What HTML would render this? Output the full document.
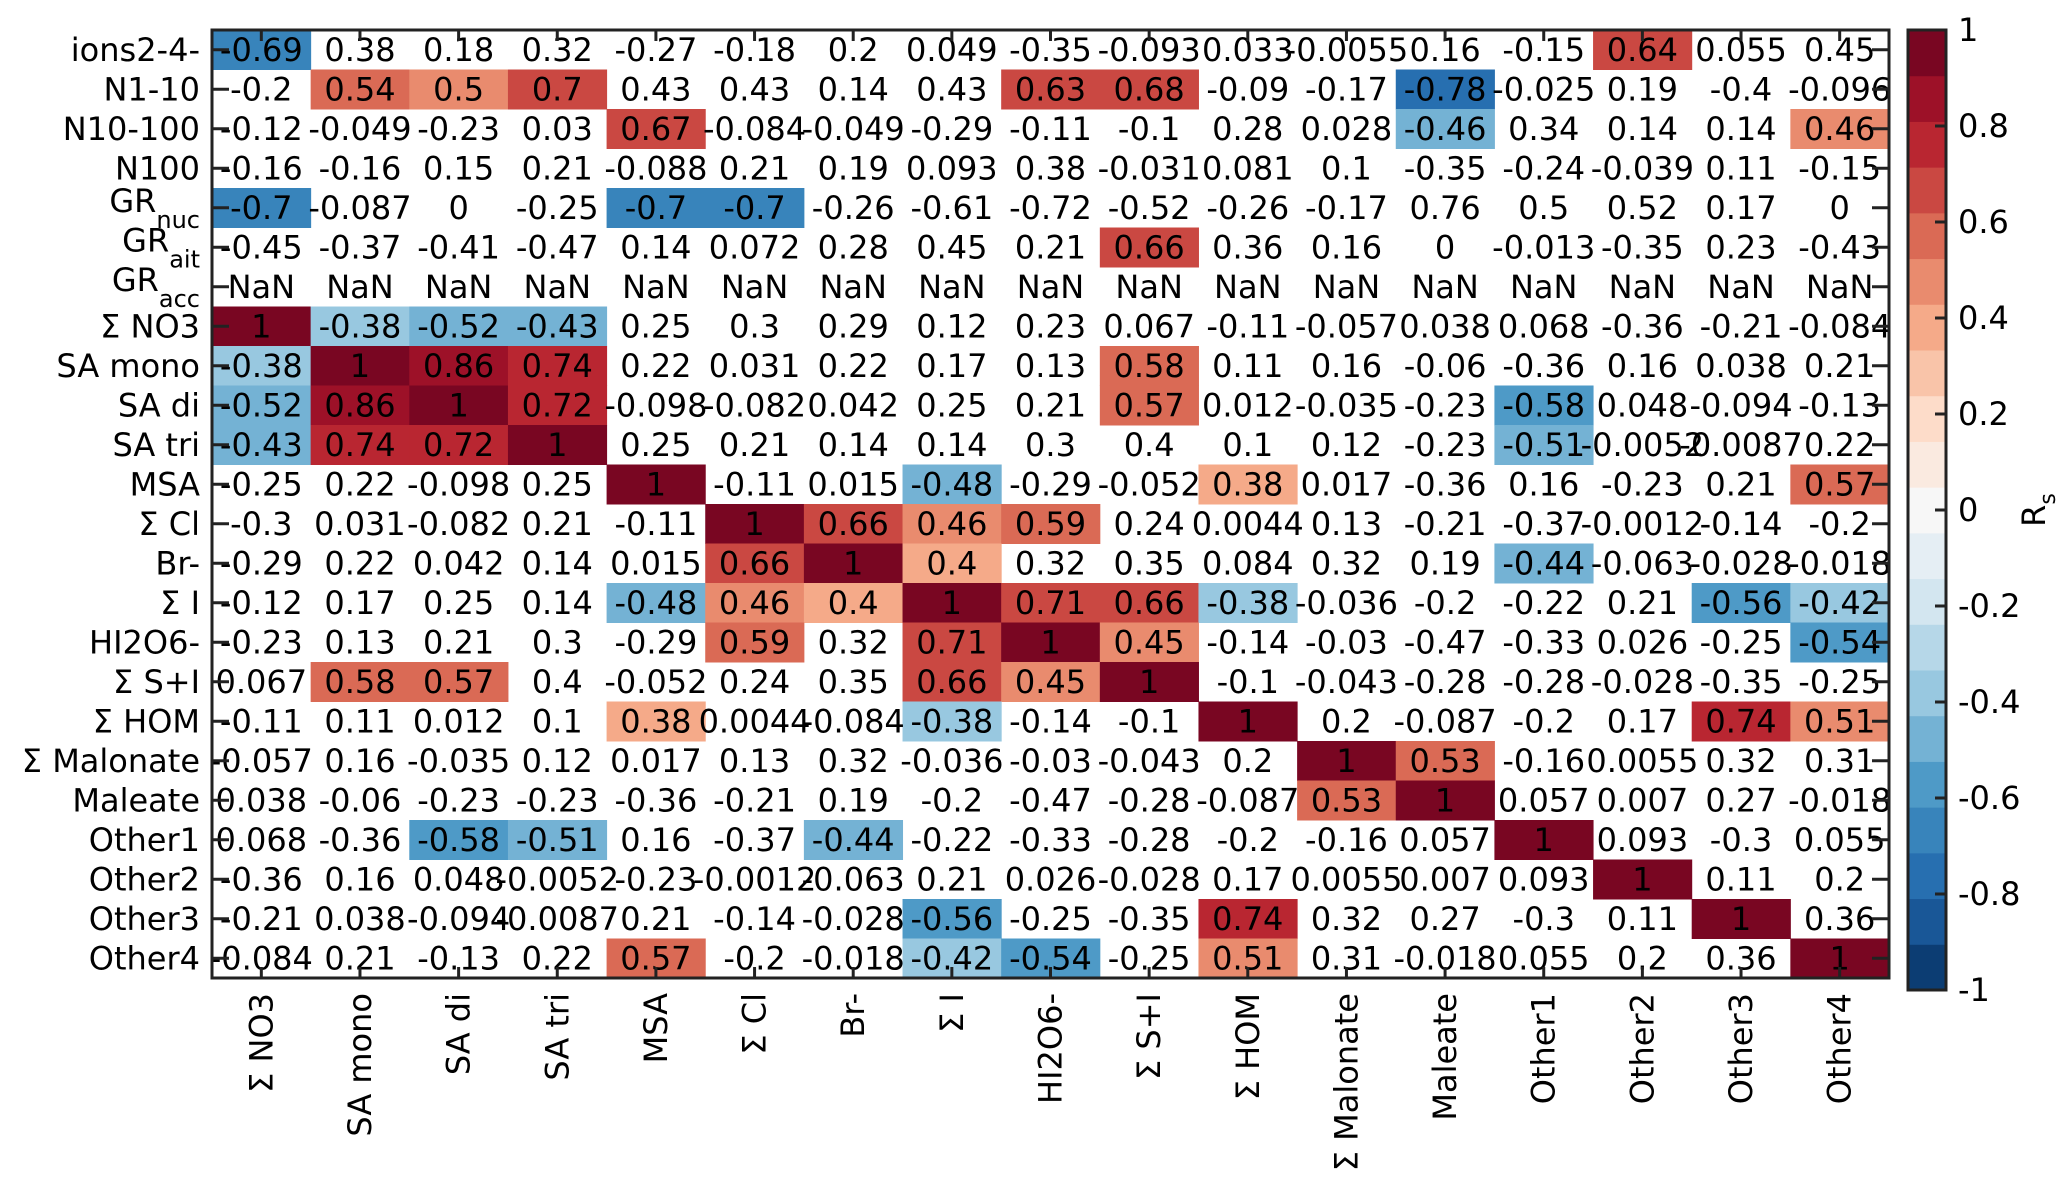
<!DOCTYPE html>
<html><head><meta charset="utf-8"><style>
html,body{margin:0;padding:0;background:#fff;}
svg{display:block;font-family:"DejaVu Sans","Liberation Sans",sans-serif;}
</style></head><body>
<svg id="chart" width="2067" height="1191" viewBox="0 0 2067 1191" xmlns="http://www.w3.org/2000/svg">
<g id="cells"></g>
<g id="texts"></g>
<g id="yaxis"></g>
<g id="xaxis"></g>
<g id="cbar"></g>
</svg>
<script>
const rowLabels = ["ions2-4-","N1-10","N10-100","N100","GR|nuc","GR|ait","GR|acc","Σ NO3","SA mono","SA di","SA tri","MSA","Σ Cl","Br-","Σ I","HI2O6-","Σ S+I","Σ HOM","Σ Malonate","Maleate","Other1","Other2","Other3","Other4"];
const colLabels = ["Σ NO3","SA mono","SA di","SA tri","MSA","Σ Cl","Br-","Σ I","HI2O6-","Σ S+I","Σ HOM","Σ Malonate","Maleate","Other1","Other2","Other3","Other4"];
const values = [
[-0.69,0.38,0.18,0.32,-0.27,-0.18,0.2,0.049,-0.35,-0.093,0.033,-0.0055,0.16,-0.15,0.64,0.055,0.45],
[-0.2,0.54,0.5,0.7,0.43,0.43,0.14,0.43,0.63,0.68,-0.09,-0.17,-0.78,-0.025,0.19,-0.4,-0.096],
[-0.12,-0.049,-0.23,0.03,0.67,-0.084,-0.049,-0.29,-0.11,-0.1,0.28,0.028,-0.46,0.34,0.14,0.14,0.46],
[-0.16,-0.16,0.15,0.21,-0.088,0.21,0.19,0.093,0.38,-0.031,0.081,0.1,-0.35,-0.24,-0.039,0.11,-0.15],
[-0.7,-0.087,0,-0.25,-0.7,-0.7,-0.26,-0.61,-0.72,-0.52,-0.26,-0.17,0.76,0.5,0.52,0.17,0],
[-0.45,-0.37,-0.41,-0.47,0.14,0.072,0.28,0.45,0.21,0.66,0.36,0.16,0,-0.013,-0.35,0.23,-0.43],
[NaN,NaN,NaN,NaN,NaN,NaN,NaN,NaN,NaN,NaN,NaN,NaN,NaN,NaN,NaN,NaN,NaN],
[1,-0.38,-0.52,-0.43,0.25,0.3,0.29,0.12,0.23,0.067,-0.11,-0.057,0.038,0.068,-0.36,-0.21,-0.084],
[-0.38,1,0.86,0.74,0.22,0.031,0.22,0.17,0.13,0.58,0.11,0.16,-0.06,-0.36,0.16,0.038,0.21],
[-0.52,0.86,1,0.72,-0.098,-0.082,0.042,0.25,0.21,0.57,0.012,-0.035,-0.23,-0.58,0.048,-0.094,-0.13],
[-0.43,0.74,0.72,1,0.25,0.21,0.14,0.14,0.3,0.4,0.1,0.12,-0.23,-0.51,-0.0052,-0.0087,0.22],
[-0.25,0.22,-0.098,0.25,1,-0.11,0.015,-0.48,-0.29,-0.052,0.38,0.017,-0.36,0.16,-0.23,0.21,0.57],
[-0.3,0.031,-0.082,0.21,-0.11,1,0.66,0.46,0.59,0.24,0.0044,0.13,-0.21,-0.37,-0.0012,-0.14,-0.2],
[-0.29,0.22,0.042,0.14,0.015,0.66,1,0.4,0.32,0.35,0.084,0.32,0.19,-0.44,-0.063,-0.028,-0.018],
[-0.12,0.17,0.25,0.14,-0.48,0.46,0.4,1,0.71,0.66,-0.38,-0.036,-0.2,-0.22,0.21,-0.56,-0.42],
[-0.23,0.13,0.21,0.3,-0.29,0.59,0.32,0.71,1,0.45,-0.14,-0.03,-0.47,-0.33,0.026,-0.25,-0.54],
[0.067,0.58,0.57,0.4,-0.052,0.24,0.35,0.66,0.45,1,-0.1,-0.043,-0.28,-0.28,-0.028,-0.35,-0.25],
[-0.11,0.11,0.012,0.1,0.38,0.0044,-0.084,-0.38,-0.14,-0.1,1,0.2,-0.087,-0.2,0.17,0.74,0.51],
[-0.057,0.16,-0.035,0.12,0.017,0.13,0.32,-0.036,-0.03,-0.043,0.2,1,0.53,-0.16,0.0055,0.32,0.31],
[0.038,-0.06,-0.23,-0.23,-0.36,-0.21,0.19,-0.2,-0.47,-0.28,-0.087,0.53,1,0.057,0.007,0.27,-0.018],
[0.068,-0.36,-0.58,-0.51,0.16,-0.37,-0.44,-0.22,-0.33,-0.28,-0.2,-0.16,0.057,1,0.093,-0.3,0.055],
[-0.36,0.16,0.048,-0.0052,-0.23,-0.0012,-0.063,0.21,0.026,-0.028,0.17,0.0055,0.007,0.093,1,0.11,0.2],
[-0.21,0.038,-0.094,-0.0087,0.21,-0.14,-0.028,-0.56,-0.25,-0.35,0.74,0.32,0.27,-0.3,0.11,1,0.36],
[-0.084,0.21,-0.13,0.22,0.57,-0.2,-0.018,-0.42,-0.54,-0.25,0.51,0.31,-0.018,0.055,0.2,0.36,1]
];
// 1 = significant (cell coloured), 0 = blank
const significant = [
"10000000000000100","01110000110010000","00001000000010001","00000000000000000",
"10001100000000000","00000000010000000","00000000000000000","11110000000000000",
"11110000010000000","11110000010001000","11110000000001000","00001001001000001",
"00000111100000000","00000111000001000","00001111111000011","00000101110000001",
"01100001110000000","00001001001000011","00000000000110000","00000000000110000",
"00110010000001000","00000000000000100","00000001001000010","00001001101000001"
];
const cbarTicks = [1,0.8,0.6,0.4,0.2,0,-0.2,-0.4,-0.6,-0.8,-1];
const nLevels = 21;

const L=212,R=1889,T=30,B=978;
const cw=(R-L)/colLabels.length, rh=(B-T)/rowLabels.length;
const xC=j=>L+(j+0.5)*cw, yC=i=>T+(i+0.5)*rh;
const NS="http://www.w3.org/2000/svg";
function mk(tag,attrs,parent){const e=document.createElementNS(NS,tag);for(const k in attrs)e.setAttribute(k,attrs[k]);parent.appendChild(e);return e;}

const RdBu=[[0.40392,0,0.12157],[0.69804,0.09412,0.16863],[0.83922,0.37647,0.30196],[0.95686,0.64706,0.5098],[0.99216,0.85882,0.78039],[0.96863,0.96863,0.96863],[0.81961,0.89804,0.94118],[0.57255,0.77255,0.87059],[0.26275,0.57647,0.76471],[0.12941,0.4,0.67451],[0.01961,0.18824,0.38039]];
function cmapR(t){
  const s=(1-t)*10;const i=Math.min(9,Math.floor(s));const f=s-i;
  const a=RdBu[i],b=RdBu[i+1];
  return "rgb("+[0,1,2].map(k=>Math.round(255*(a[k]+(b[k]-a[k])*f))).join(",")+")";
}
function colorFor(v){let idx=Math.floor((v+1)/(2/nLevels));idx=Math.max(0,Math.min(nLevels-1,idx));return cmapR((idx+0.5)/nLevels);}
function fmt(v){if(isNaN(v))return "NaN";return String(Number(v.toPrecision(2)));}

const gC=document.getElementById('cells'),gT=document.getElementById('texts'),gY=document.getElementById('yaxis'),gX=document.getElementById('xaxis'),gB=document.getElementById('cbar');
const FS=32;
for(let i=0;i<rowLabels.length;i++){
  for(let j=0;j<colLabels.length;j++){
    const v=values[i][j];
    if(significant[i][j]==="1"&&!isNaN(v)){
      const r=mk('rect',{x:L+j*cw,y:T+i*rh,width:cw+0.5,height:rh+0.5,fill:colorFor(v)},gC);
      
      
    }
    const t=mk('text',{x:xC(j),y:yC(i)+11,'text-anchor':'middle','font-size':FS,fill:'#000'},gT);
    t.textContent=fmt(v);
    
    
  }
}
mk('rect',{x:L,y:T,width:R-L,height:B-T,fill:'none',stroke:'#222','stroke-width':3},gY);
for(let i=0;i<rowLabels.length;i++){
  const y=yC(i);
  mk('line',{x1:L,x2:L+17,y1:y,y2:y,stroke:'#222','stroke-width':3},gY);
  mk('line',{x1:R-17,x2:R,y1:y,y2:y,stroke:'#222','stroke-width':3},gY);
  const parts=rowLabels[i].split('|');
  const t=mk('text',{x:200,y:y+(parts.length>1?4:11),'text-anchor':'end','font-size':FS,fill:'#000'},gY);
  
  
  if(parts.length>1){
    const a=mk('tspan',{},t);a.textContent=parts[0];
    const b=mk('tspan',{dy:16,'font-size':24},t);b.textContent=parts[1];
  } else t.textContent=parts[0];
}
for(let j=0;j<colLabels.length;j++){
  const x=xC(j);
  mk('line',{x1:x,x2:x,y1:T,y2:T+11,stroke:'#222','stroke-width':3},gX);
  mk('line',{x1:x,x2:x,y1:B-11,y2:B,stroke:'#222','stroke-width':3},gX);
  const t=mk('text',{x:0,y:0,'text-anchor':'end','font-size':FS,fill:'#000',transform:`translate(${x+11},993) rotate(-90)`},gX);
  t.textContent=colLabels[j];
  
  
}
const CL=1908,CR=1946,CT=30,CB=990;
const bh=(CB-CT)/nLevels;
for(let k=0;k<nLevels;k++){
  const r=mk('rect',{x:CL,y:CB-(k+1)*bh,width:CR-CL,height:bh+0.5,fill:cmapR((k+0.5)/nLevels)},gB);
  
  
}
mk('rect',{x:CL,y:CT,width:CR-CL,height:CB-CT,fill:'none',stroke:'#222','stroke-width':3},gB);
const cy=v=>CT+(1-v)/2*(CB-CT);
cbarTicks.forEach(v=>{
  const y=cy(v);
  mk('line',{x1:CR-11,x2:CR,y1:y,y2:y,stroke:'#222','stroke-width':3},gB);
  const t=mk('text',{x:1958,y:y+11,'font-size':FS,fill:'#000'},gB);
  t.textContent=String(v);
  
  
});
const lab=mk('text',{x:0,y:0,'text-anchor':'middle','font-size':FS,fill:'#000',transform:'translate(2045,510) rotate(-90)'},gB);


const l1=mk('tspan',{},lab);l1.textContent='R';
const l2=mk('tspan',{dy:10,'font-size':22},lab);l2.textContent='s';
</script>
</body></html>
